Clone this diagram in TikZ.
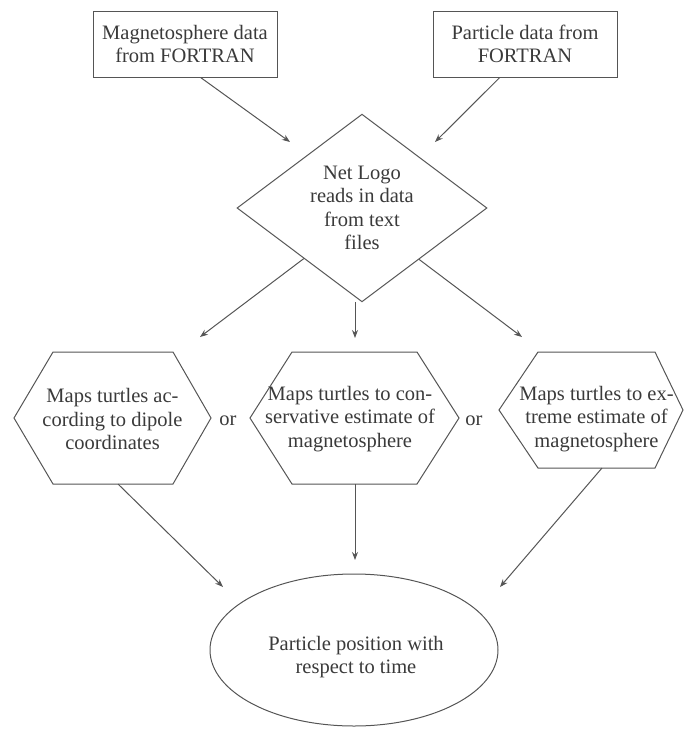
\documentclass[tikz,border=0pt]{standalone}
\usepackage{fontspec}
\setmainfont{Liberation Serif}
\usetikzlibrary{shapes.geometric,arrows.meta}
\definecolor{linecol}{HTML}{555555}
\definecolor{textcol}{HTML}{3A3A3A}
\tikzset{
  base/.style={text=textcol, align=center, font=\fontsize{20.5}{23.5}\selectfont, inner sep=0pt},
  boxnode/.style={base, draw=linecol, line width=1pt, rectangle, minimum width=184pt, minimum height=66pt},
  decision/.style={base, draw=linecol, line width=1pt, diamond, minimum width=250pt, minimum height=183pt},
  endnode/.style={draw=linecol, line width=1pt, ellipse, minimum width=288pt, minimum height=152pt, inner sep=0pt},
  hexline/.style={draw=linecol, line width=1pt, line join=miter},
  arr/.style={draw=linecol, line width=1pt, -{Stealth[length=8pt,width=6pt]}},
}
\begin{document}
\begin{tikzpicture}[x=1pt,y=-1pt]
\useasboundingbox (0,0) rectangle (685,729);

% top boxes
\node[boxnode] (m1) at (185,44) {Magnetosphere data\\from FORTRAN};
\node[boxnode] (m2) at (525,44) {Particle data from\\FORTRAN};

% decision
\node[decision] (d) at (362,208) {Net Logo\\reads in data\\from text\\files};

% hexagons
\draw[hexline] (14,418) -- (53,352) -- (173,352) -- (211,418) -- (173,484) -- (53,484) -- cycle;
\draw[hexline] (250,418) -- (292,352) -- (417,352) -- (459,418) -- (417,484) -- (292,484) -- cycle;
\draw[hexline] (499,410) -- (538,352) -- (655,352) -- (683,410) -- (655,468) -- (538,468) -- cycle;
\node[base] (h1) at (112.5,419) {Maps turtles ac-\\cording to dipole\\coordinates};
\node[base] (h2) at (350,419) {Maps turtles to con-\\servative estimate of\\magnetosphere};
\node[base] (h3) at (596.5,419) {Maps turtles to ex-\\treme estimate of\\magnetosphere};
\coordinate (h1b) at (118,484);
\coordinate (h2b) at (355,484);
\coordinate (h3b) at (602,468);

\node[base] (or1) at (228,421) {or};
\node[base] (or2) at (474,421) {or};

% final ellipse
\node[endnode] (el) at (354,650) {};
\node[base] (elt) at (356,657) {Particle position with\\respect to time};

% free arrow ends
\coordinate (ed1) at (290,142);
\coordinate (ed2) at (435,142);
\coordinate (eh1) at (200,337);
\coordinate (eh2) at (355,338);
\coordinate (eh3) at (522,337);
\coordinate (ee1) at (223,587);
\coordinate (ee2) at (355,560);
\coordinate (ee3) at (500,587);

% connectors
\draw[arr] (m1.-65.6) -- (ed1);
\draw[arr] (m2.-127) -- (ed2);
\draw[arr] (d.-139) -- (eh1);
\draw[arr] (d.south -| eh2) -- (eh2);
\draw[arr] (d.-42) -- (eh3);
\draw[arr] (h1b) -- (ee1);
\draw[arr] (h2b) -- (ee2);
\draw[arr] (h3b) -- (ee3);
\end{tikzpicture}
\end{document}
